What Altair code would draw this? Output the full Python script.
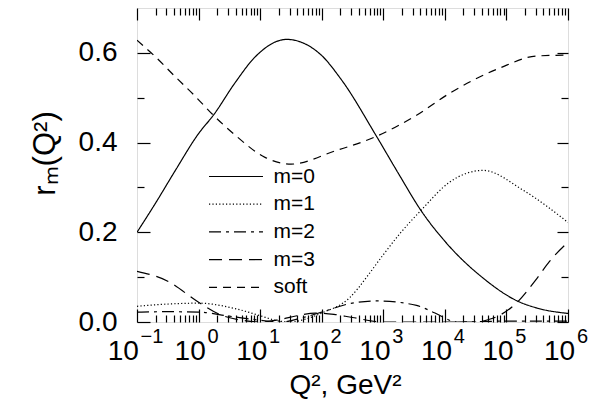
import altair as alt
import pandas as pd

series = ["m=0", "m=1", "m=2", "m=3", "soft"]
dashes = [[1, 0], [1.2, 2.2], [12, 5, 3, 5], [13, 7], [8, 6]]

q2_m0 = [0.1, 0.2, 0.42, 1, 1.74, 3.9, 8.3, 27, 93, 209, 776, 1780, 4170, 1e4, 41700, 155000, 316000, 1e6]
r_m0 = [0.200, 0.265, 0.338, 0.420, 0.461, 0.533, 0.591, 0.630, 0.598, 0.540, 0.414, 0.330, 0.247, 0.180, 0.098, 0.046, 0.031, 0.019]

q2_m1 = [0.1, 0.316, 1, 3.9, 10, 17.4, 31.6, 50, 100, 288, 389, 537, 1000, 1860, 4170, 12000, 41700, 186000, 1e6]
r_m1 = [0.035, 0.040, 0.042, 0.030, 0.014, 0.004, 0.0, 0.005, 0.020, 0.055, 0.075, 0.100, 0.150, 0.197, 0.250, 0.312, 0.338, 0.294, 0.222]

q2_m2 = [0.1, 0.316, 1, 3.16, 10, 22.4, 50, 100, 288, 794, 3470, 6920, 15800, 1e5, 1e6]
r_m2 = [0.022, 0.023, 0.022, 0.013, 0.004, 0.0, 0.010, 0.022, 0.041, 0.047, 0.037, 0.020, 0.0, 0.002, 0.002]

q2_m3 = [0.1, 0.316, 1, 2.37, 5, 10, 20, 40, 79, 158, 316, 1000, 31600, 50100, 77600, 155000, 316000, 501000, 1e6]
r_m3 = [0.113, 0.091, 0.044, 0.015, 0.004, 0.0, 0.005, 0.014, 0.020, 0.017, 0.010, 0.0, 0.0, 0.005, 0.015, 0.046, 0.098, 0.135, 0.178]

q2_soft = [0.1, 0.2, 0.41, 0.87, 1.74, 3.9, 12, 32, 162, 776, 3470, 12000, 77600, 309000, 1e6]
r_soft = [0.628, 0.591, 0.548, 0.504, 0.461, 0.417, 0.367, 0.352, 0.381, 0.414, 0.461, 0.510, 0.566, 0.593, 0.595]

x_major = [1e-1, 1e0, 1e1, 1e2, 1e3, 1e4, 1e5, 1e6]
x_all = sorted(x_major + [m * 10.0 ** k for k in range(-1, 6) for m in range(2, 10)])
y_labels = [0.0, 0.2, 0.4, 0.6]
y_all = [0.0, 0.1, 0.2, 0.3, 0.4, 0.5, 0.6]

rows = []
for name, xs, ys in zip(series, [q2_m0, q2_m1, q2_m2, q2_m3, q2_soft],
                        [r_m0, r_m1, r_m2, r_m3, r_soft]):
    for i, (a, b) in enumerate(zip(xs, ys)):
        rows.append({"series": name, "q2": a, "r": b, "order": i})
df = pd.DataFrame(rows)
frame_df = pd.DataFrame({"q2": [0.1, 1e6], "r": [0.0, 0.7]})

W, H = 431, 314
FONT = "Liberation Sans"
xscale = alt.Scale(type="log", domain=[0.1, 1e6])
yscale = alt.Scale(domain=[0, 0.7])

major_x_test = "abs(log(datum.value)/LN10 - round(log(datum.value)/LN10)) < 1e-6"
major_y_test = "abs(datum.value*5 - round(datum.value*5)) < 1e-6"
first_test = "datum.value < 0.5"

lines = alt.Chart(df).mark_line(strokeWidth=1.2, color="black", clip=True,
                                interpolate="monotone").encode(
    x=alt.X("q2:Q", scale=xscale,
            axis=alt.Axis(orient="bottom", values=x_major, labelExpr="'10'",
                          ticks=False, domain=False, grid=False,
                          labelFontSize=28, labelAlign="right",
                          labelBaseline="top", labelPadding=15,
                          labelOffset={"condition": {"test": first_test, "value": 1.3}, "value": 6.7},
                          labelColor="black", labelFont=FONT,
                          title="Q², GeV²", titleFontSize=28, titleFont=FONT,
                          titleFontWeight="normal", titleColor="black",
                          titleX=208, titleY=71, titleAlign="center",
                          titleBaseline="alphabetic")),
    y=alt.Y("r:Q", scale=yscale,
            axis=alt.Axis(orient="left", values=y_labels, format=".1f",
                          ticks=False, domain=False, grid=False,
                          labelFontSize=28, labelPadding=20,
                          labelColor="black", labelFont=FONT,
                          title="rₘ(Q²)", titleFontSize=31, titleFont=FONT,
                          titleFontWeight="normal", titleColor="black",
                          titleX=-92, titleY=145, titleAngle=270,
                          titleAlign="center", titleBaseline="middle")),
    strokeDash=alt.StrokeDash("series:N",
                              scale=alt.Scale(domain=series, range=dashes),
                              legend=alt.Legend(orient="none", legendX=87.5, legendY=157,
                                                title=None, symbolType="M-2.57,0H2.57",
                                                symbolSize=441, symbolStrokeWidth=1.2,
                                                symbolStrokeColor="black",
                                                labelFontSize=21, labelFont=FONT,
                                                labelColor="black", labelOffset=26,
                                                rowPadding=5.7, padding=0)),
    order="order:Q",
)

ticks_a = alt.Chart(frame_df).mark_point(opacity=0).encode(
    x=alt.X("q2:Q", scale=xscale, title=None,
            axis=alt.Axis(orient="top", offset=-H, values=x_all, labels=False,
                          domain=False, grid=False, tickColor="black", tickWidth=1.2,
                          tickSize={"condition": {"test": major_x_test, "value": 13}, "value": 7})),
    y=alt.Y("r:Q", scale=yscale, title=None,
            axis=alt.Axis(orient="right", offset=-W, values=y_all, labels=False,
                          domain=False, grid=False, tickColor="black", tickWidth=1.2,
                          tickSize={"condition": {"test": major_y_test, "value": 13}, "value": 7})),
)

ticks_b = alt.Chart(frame_df).mark_point(opacity=0).encode(
    x=alt.X("q2:Q", scale=xscale, title=None,
            axis=alt.Axis(orient="bottom", offset=-H, values=x_all, labels=False,
                          domain=False, grid=False, tickColor="black", tickWidth=1.2,
                          tickSize={"condition": {"test": major_x_test, "value": 12}, "value": 7})),
    y=alt.Y("r:Q", scale=yscale, title=None,
            axis=alt.Axis(orient="left", offset=-W, values=y_all, labels=False,
                          domain=False, grid=False, tickColor="black", tickWidth=1.2,
                          tickSize={"condition": {"test": major_y_test, "value": 11}, "value": 7})),
)

expo = alt.Chart(frame_df).mark_point(opacity=0).encode(
    x=alt.X("q2:Q", scale=xscale, title=None,
            axis=alt.Axis(orient="bottom", values=x_major,
                          labelExpr="format(log(datum.value)/LN10, 'd')",
                          ticks=False, domain=False, grid=False,
                          labelFontSize=20, labelAlign="left", labelBaseline="top",
                          labelPadding=4, labelColor="black", labelFont=FONT,
                          labelOffset={"condition": {"test": first_test, "value": 3}, "value": 8.4})),
    y=alt.Y("r:Q", scale=yscale, axis=None),
)

chart = alt.layer(lines, ticks_a, ticks_b, expo).resolve_axis(
    x="independent", y="independent"
).properties(
    width=W, height=H,
    autosize=alt.AutoSizeParams(type="none"),
    padding={"left": 129, "top": 0, "right": 30, "bottom": 79},
).configure_view(stroke="black", strokeWidth=1.6).configure(font=FONT)

chart.save("out.html", embed_options={"renderer": "svg", "actions": False})
